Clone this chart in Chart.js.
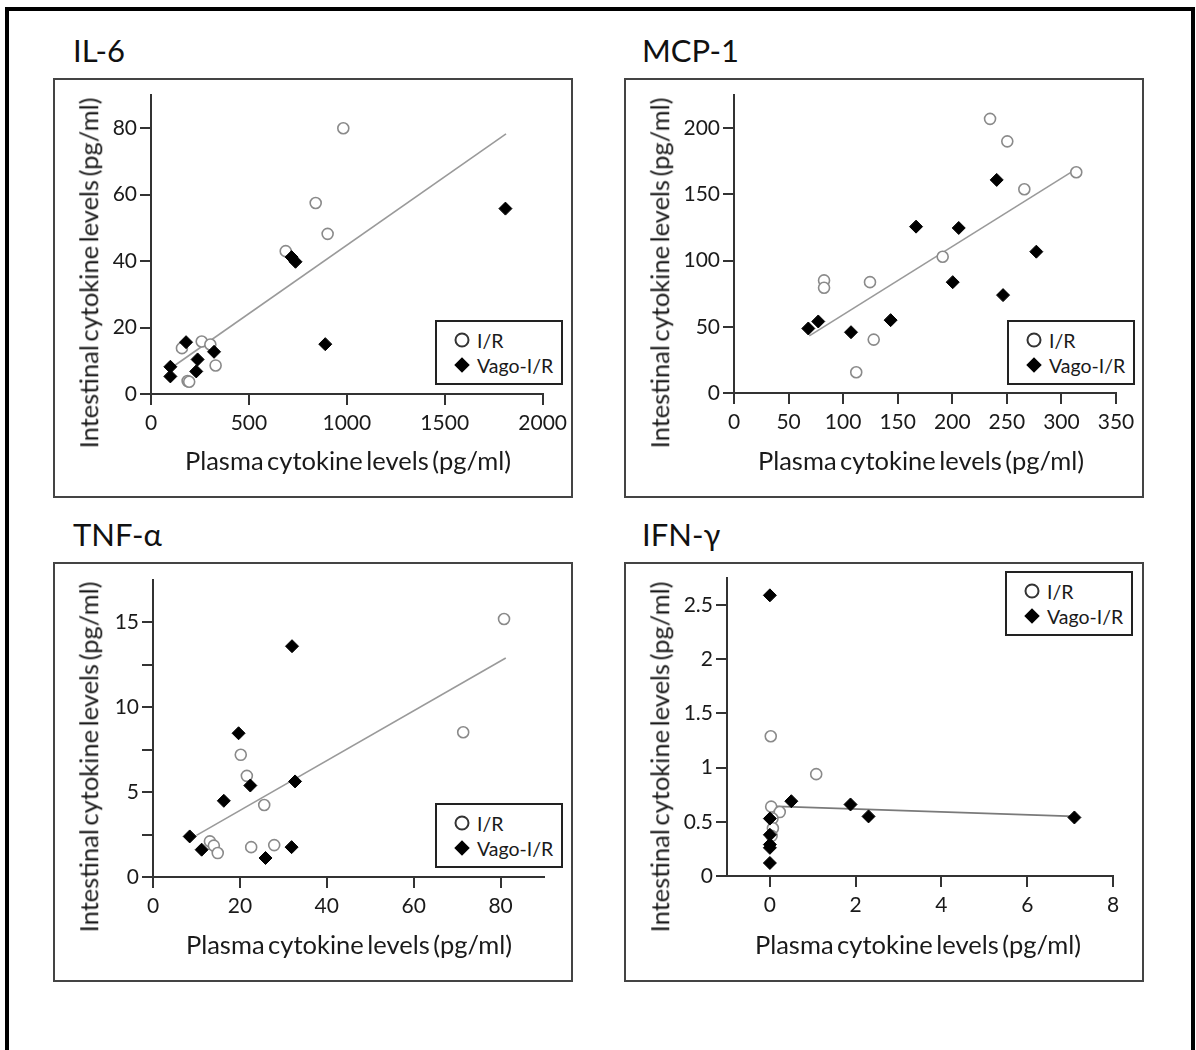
<!DOCTYPE html>
<html>
<head>
<meta charset="utf-8">
<script src="https://cdn.jsdelivr.net/npm/chart.js@4.4.1/dist/chart.umd.min.js"></script>
<style>
html, body { margin: 0; width: 1196px; height: 1050px; overflow: hidden; background: #fff; font-family: Lato, "Open Sans", sans-serif; color: #1a1a1a; }
#frame { position: absolute; left: 5px; top: 7px; width: 1190px; height: 1100px; border: 4px solid #000; box-sizing: border-box; }
.panel { position: absolute; width: 520px; height: 420px; }
.panel .box { position: absolute; left: 0; top: 0; width: 520px; height: 420px; border: 2px solid #444; box-sizing: border-box; }
.panel canvas { position: absolute; left: 0; top: 0; }
.ptitle { position: absolute; font-size: 31px; line-height: 31px; color: #111; white-space: nowrap; }
.xtitle { position: absolute; font-size: 25.5px; line-height: 25.5px; white-space: nowrap; transform: translate(-50%, -50%); word-spacing: -3px; }
.ytitle { position: absolute; font-size: 25.5px; line-height: 25.5px; white-space: nowrap; transform: translate(-50%, -50%) rotate(-90deg); word-spacing: -3px; }
.legend { position: absolute; width: 128px; height: 65px; border: 2px solid #222; box-sizing: border-box; background: #fff; }
.legend .row { position: absolute; left: 40px; font-size: 19.5px; line-height: 19.5px; transform: translateY(-50%); white-space: nowrap; }
.legend .circ { position: absolute; width: 11px; height: 11px; border: 2px solid #333; border-radius: 50%; transform: translate(-50%, -50%); }
.legend .diam { position: absolute; width: 11px; height: 11px; background: #000; transform: translate(-50%, -50%) rotate(45deg); }
</style>
</head>
<body>
<div id="frame"></div>
<div id="panels"></div>
<script>
// IL-6
const il6PlasmaIR = [982, 841, 902, 688, 158, 259, 303, 330, 187, 195];
const il6IntestIR = [80.0, 57.5, 48.2, 43.0, 13.8, 15.8, 14.9, 8.6, 3.9, 3.7];
const il6PlasmaVago = [1810, 738, 718, 890, 179, 322, 238, 231, 99, 99];
const il6IntestVago = [55.8, 39.8, 41.2, 15.0, 15.6, 12.7, 10.4, 6.8, 8.2, 5.3];
const il6FitX = [119, 1813];
const il6FitY = [8.5, 78.3];
const il6XTicks = [0, 500, 1000, 1500, 2000];
const il6XLabels = ['0', '500', '1000', '1500', '2000'];
const il6YTicks = [0, 20, 40, 60, 80];
const il6YLabels = ['0', '20', '40', '60', '80'];

// MCP-1
const mcpPlasmaIR = [234.6, 250.4, 313.6, 266, 191.2, 82.5, 82.5, 124.6, 128, 112];
const mcpIntestIR = [207, 190, 166.7, 153.8, 102.9, 85, 79.5, 83.7, 40.3, 15.7];
const mcpPlasmaVago = [240.7, 166.8, 205.9, 277, 200.4, 246.5, 143.5, 77.2, 68.1, 107.2];
const mcpIntestVago = [160.9, 125.6, 124.6, 106.7, 83.7, 73.9, 55, 54, 48.7, 45.9];
const mcpFitX = [69, 313.4];
const mcpFitY = [43.1, 169];
const mcpXTicks = [0, 50, 100, 150, 200, 250, 300, 350];
const mcpXLabels = ['0', '50', '100', '150', '200', '250', '300', '350'];
const mcpYTicks = [0, 50, 100, 150, 200];
const mcpYLabels = ['0', '50', '100', '150', '200'];

// TNF-α
const tnfPlasmaIR = [80.8, 71.4, 20.2, 21.6, 25.6, 13.1, 14, 14.9, 22.6, 27.9];
const tnfIntestIR = [15.2, 8.53, 7.2, 5.96, 4.24, 2.1, 1.85, 1.41, 1.76, 1.88];
const tnfPlasmaVago = [32, 19.7, 32.7, 22.4, 16.3, 8.45, 11.2, 31.9, 25.9];
const tnfIntestVago = [13.6, 8.47, 5.63, 5.39, 4.49, 2.39, 1.61, 1.76, 1.12];
const tnfFitX = [10, 81.2];
const tnfFitY = [2.45, 12.9];
const tnfXTicks = [0, 20, 40, 60, 80];
const tnfXLabels = ['0', '20', '40', '60', '80'];
const tnfYTicks = [0, 2.5, 5, 7.5, 10, 12.5, 15];
const tnfYLabels = ['0', '', '5', '', '10', '', '15'];

// IFN-γ
const ifnPlasmaIR = [0.02, 1.08, 0.03, 0.23, 0.06, 0.07, 0.04];
const ifnIntestIR = [1.29, 0.94, 0.64, 0.59, 0.53, 0.44, 0.37];
const ifnPlasmaVago = [0, 0.5, 1.88, 2.3, 7.1, 0, 0, 0, 0, 0];
const ifnIntestVago = [2.59, 0.69, 0.66, 0.55, 0.54, 0.53, 0.38, 0.29, 0.26, 0.12];
const ifnFitX = [0, 7.1];
const ifnFitY = [0.645, 0.55];
const ifnXTicks = [0, 2, 4, 6, 8];
const ifnXLabels = ['0', '2', '4', '6', '8'];
const ifnYTicks = [0, 0.5, 1, 1.5, 2, 2.5];
const ifnYLabels = ['0', '0.5', '1', '1.5', '2', '2.5'];

const seriesNames = ['I/R', 'Vago-I/R'];
const xAxisTitle = 'Plasma cytokine levels (pg/ml)';
const yAxisTitle = 'Intestinal cytokine levels (pg/ml)';

function pairs(xs, ys) {
    return xs.map(function (x, i) { return { x: x, y: ys[i] }; });
}

function axis(min, max, ticks, labels, fitSize, horizontal) {
    return {
        type: 'linear',
        min: min,
        max: max,
        afterBuildTicks: function (s) { s.ticks = ticks.map(function (v) { return { value: v }; }); },
        afterFit: function (s) { if (horizontal) { s.height = fitSize; } else { s.width = fitSize; } },
        border: { display: true, color: '#333', width: 2 },
        grid: { drawOnChartArea: false, drawTicks: true, tickLength: 11, color: '#333', lineWidth: 2 },
        ticks: {
            autoSkip: false,
            maxRotation: 0,
            padding: horizontal ? 6 : 3,
            color: '#1a1a1a',
            font: { family: 'Lato', size: 21 },
            callback: function (v, i) { return labels[i]; }
        }
    };
}

function makePanel(p) {
    var holder = document.createElement('div');
    holder.className = 'panel';
    holder.style.left = p.left + 'px';
    holder.style.top = p.top + 'px';
    holder.innerHTML =
        '<div class="box"></div><canvas width="520" height="420"></canvas>' +
        '<div class="ptitle" style="left:' + p.titleX + 'px;top:-43.5px">' + p.title + '</div>' +
        '<div class="xtitle" style="left:' + p.xTitleX + 'px;top:383px">' + xAxisTitle + '</div>' +
        '<div class="ytitle" style="left:36px;top:195px">' + yAxisTitle + '</div>' +
        '<div class="legend" style="left:' + p.legend[0] + 'px;top:' + p.legend[1] + 'px">' +
        '<div class="circ" style="left:25px;top:18px"></div><div class="row" style="top:19px">' + seriesNames[0] + '</div>' +
        '<div class="diam" style="left:25px;top:43px"></div><div class="row" style="top:44px">' + seriesNames[1] + '</div>' +
        '</div>';
    document.getElementById('panels').appendChild(holder);

    new Chart(holder.querySelector('canvas'), {
        type: 'scatter',
        data: {
            datasets: [{
                label: seriesNames[1],
                data: pairs(p.vagoX, p.vagoY),
                pointStyle: 'rectRot',
                pointRadius: 6.5,
                backgroundColor: '#000',
                borderColor: '#000',
                borderWidth: 1,
                order: 1
            }, {
                label: seriesNames[0],
                data: pairs(p.irX, p.irY),
                pointStyle: 'circle',
                pointRadius: 5.5,
                backgroundColor: '#fff',
                borderColor: '#8a8a8a',
                borderWidth: 1.6,
                order: 2
            }, {
                label: 'fit',
                data: pairs(p.fitX, p.fitY),
                showLine: true,
                pointRadius: 0,
                borderColor: p.fitColor,
                borderWidth: 1.6,
                order: 5
            }]
        },
        options: {
            responsive: false,
            animation: false,
            events: [],
            clip: false,
            layout: { padding: { left: 0, top: p.pad[0], right: p.pad[1], bottom: 0 } },
            plugins: { legend: { display: false }, tooltip: { enabled: false } },
            scales: {
                x: axis(p.xMin, p.xMax, p.xTicks, p.xLabels, p.fit[1], true),
                y: axis(0, p.yMax, p.yTicks, p.yLabels, p.fit[0], false)
            }
        }
    });
}

makePanel({
    left: 53, top: 78, title: 'IL-6', titleX: 20, xTitleX: 295,
    legend: [382, 242], pad: [17, 30], fit: [98, 104],
    irX: il6PlasmaIR, irY: il6IntestIR, vagoX: il6PlasmaVago, vagoY: il6IntestVago,
    fitX: il6FitX, fitY: il6FitY, fitColor: '#9a9a9a',
    xMin: 0, xMax: 2000, yMax: 90,
    xTicks: il6XTicks, xLabels: il6XLabels, yTicks: il6YTicks, yLabels: il6YLabels
});

makePanel({
    left: 624, top: 78, title: 'MCP-1', titleX: 18, xTitleX: 297,
    legend: [383, 242], pad: [17, 28], fit: [110, 105],
    irX: mcpPlasmaIR, irY: mcpIntestIR, vagoX: mcpPlasmaVago, vagoY: mcpIntestVago,
    fitX: mcpFitX, fitY: mcpFitY, fitColor: '#9a9a9a',
    xMin: 0, xMax: 350, yMax: 225,
    xTicks: mcpXTicks, xLabels: mcpXLabels, yTicks: mcpYTicks, yLabels: mcpYLabels
});

makePanel({
    left: 53, top: 562, title: 'TNF-α', titleX: 20, xTitleX: 296,
    legend: [382, 241], pad: [18, 29], fit: [100, 105],
    irX: tnfPlasmaIR, irY: tnfIntestIR, vagoX: tnfPlasmaVago, vagoY: tnfIntestVago,
    fitX: tnfFitX, fitY: tnfFitY, fitColor: '#9a9a9a',
    xMin: 0, xMax: 90, yMax: 17.5,
    xTicks: tnfXTicks, xLabels: tnfXLabels, yTicks: tnfYTicks, yLabels: tnfYLabels
});

makePanel({
    left: 624, top: 562, title: 'IFN-γ', titleX: 18, xTitleX: 294,
    legend: [381, 9], pad: [16, 31], fit: [103, 106],
    irX: ifnPlasmaIR, irY: ifnIntestIR, vagoX: ifnPlasmaVago, vagoY: ifnIntestVago,
    fitX: ifnFitX, fitY: ifnFitY, fitColor: '#7a7a7a',
    xMin: -1, xMax: 8, yMax: 2.75,
    xTicks: ifnXTicks, xLabels: ifnXLabels, yTicks: ifnYTicks, yLabels: ifnYLabels
});
</script>
</body>
</html>
